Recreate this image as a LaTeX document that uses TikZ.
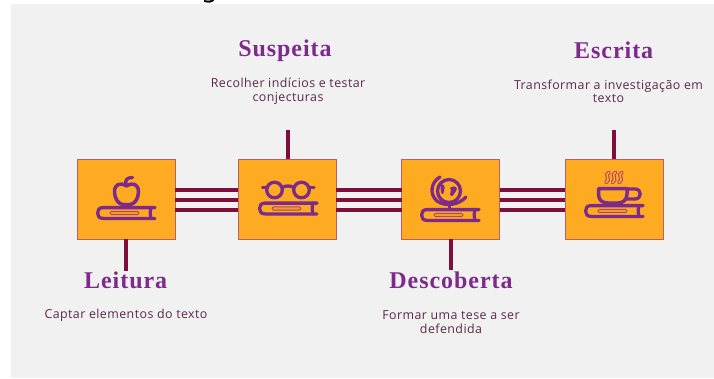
\documentclass[tikz,border=0pt]{standalone}
\usepackage{fontspec}
\setmainfont{Open Sans}[LetterSpace=3.5]
\newfontfamily\titlefont{Liberation Serif}[BoldFont={Liberation Serif Bold},BoldFeatures={LetterSpace=4}]
\newfontfamily\capfont{DejaVu Sans}
\definecolor{panelgray}{HTML}{F1F1F2}
\definecolor{amber}{HTML}{FFAB22}
\definecolor{edgerose}{HTML}{B8606A}
\definecolor{wine}{HTML}{7F0F3A}
\definecolor{violet}{HTML}{7D2A8A}
\definecolor{plum}{HTML}{5A2A45}
\definecolor{steam}{HTML}{B0456A}
\tikzset{
  x=1pt,y=-1pt,
  tile/.style={draw=edgerose,line width=0.9pt,fill=amber,minimum width=98pt,minimum height=80pt,inner sep=0pt,outer sep=0pt},
  rail/.style={draw=wine,line width=3.8pt},
  stem/.style={draw=wine,line width=4.2pt},
  heading/.style={text=violet,font=\titlefont\bfseries\fontsize{24}{26}\selectfont,inner sep=0pt},
  caption/.style={text=plum,font=\fontsize{12.4}{13.6}\selectfont,align=center,inner sep=0pt},
  ink/.style={draw=violet,line width=3.3pt,line cap=round,line join=round},
  bookicon/.pic={
    \draw[ink] (59,1.6) -- (7,1.6) .. controls (3,1.6) and (1.6,4) .. (1.6,7) .. controls (1.6,10) and (3,12.4) .. (7,12.4) -- (59,12.4);
    \draw[ink] (55,1.6) .. controls (54,5) and (54,9) .. (55,12.4);
    \draw[draw=steam,line width=0.9pt,fill=amber!85!steam,rounded corners=1.4pt] (14,5.4) rectangle (43,8.6);
  }
}
\begin{document}
\begin{tikzpicture}
\useasboundingbox (0,0) rectangle (714,378);
\fill[white] (0,0) rectangle (714,378);
\fill[panelgray] (11,4) rectangle (714,378);
\node[anchor=base,text=black,font=\capfont\fontsize{27}{30}\selectfont,inner sep=0pt] (frag) at (209.5,-2.2) {g};

\node[tile] (a) at (126.2,199.3) {};
\node[tile] (b) at (287.3,199.3) {};
\node[tile] (c) at (450.5,199.3) {};
\node[tile] (d) at (614.2,199.3) {};

\foreach \u/\v in {a/b,b/c,c/d}
  \foreach \s in {-11,-1,9}
    \draw[rail] ([yshift=\s pt]\u.east) -- ([yshift=\s pt]\v.west);

\node[heading] (t1) at (125.7,280) {Leitura};
\node[heading] (t2) at (285,51) {Suspeita};
\node[heading] (t3) at (451,280) {Descoberta};
\node[heading] (t4) at (613.7,50.5) {Escrita};

\coordinate (sa) at (126.2,270.5);
\coordinate (sb) at (287.8,130);
\coordinate (sc) at (450.8,270);
\coordinate (sd) at (614,130);
\draw[stem] (a.south -| sa) -- (sa);
\draw[stem] (b.north -| sb) -- (sb);
\draw[stem] (c.south -| sc) -- (sc);
\draw[stem] (d.north -| sd) -- (sd);

\node[caption] (c1) at (126,315) {Captar elementos do texto};
\node[caption] (c2) at (288,91.5) {Recolher indícios e testar\\conjecturas};
\node[caption] (c3) at (451,322) {Formar uma tese a ser\\defendida};
\node[caption] (c4) at (608.5,91.5) {Transformar a investigação em\\texto};

% books
\pic at (96,206) {bookicon};
\pic at (258,201.5) {bookicon};
\pic at (420,208) {bookicon};
\pic at (584,204) {bookicon};

% apple
\draw[ink,line width=3.5pt] (126.5,186) .. controls (120,182) and (114.5,184) .. (114.5,192) .. controls (114.5,199) and (119,204.5) .. (123,204.5) -- (130,204.5) .. controls (134,204.5) and (138.5,199) .. (138.5,192) .. controls (138.5,184) and (133,182) .. (126.5,186);
\draw[ink] (126,184) .. controls (125,180) and (127,177.5) .. (132.5,177.5);

% glasses
\draw[ink] (274.5,190) circle[radius=7.8pt];
\draw[ink] (301.5,190) circle[radius=7.8pt];
\draw[ink] (282,187.5) .. controls (285,185.5) and (291,185.5) .. (294,187.5);
\draw[ink] (267,187.5) -- (262.5,187.5);
\draw[ink] (309,187.5) -- (314,187.5);

% globe
\draw[ink] (449,191) circle[radius=11.5pt];
\draw[ink] (440,177) .. controls (431,182) and (429,194) .. (437,201) .. controls (445,207) and (459,205) .. (466,197);
\draw[ink] (449.5,205) -- (449.5,208);
\fill[violet] (441,184) .. controls (446,184) and (445,190) .. (443,194) .. controls (441,195) and (440,190) .. (441,184);
\fill[violet] (450,188) .. controls (454,184) and (459,188) .. (456,191) .. controls (453,193) and (455,196) .. (451,196) .. controls (448,194) and (453,191) .. (450,188);

% cup
\draw[ink,line width=3.5pt] (598.5,188.5) -- (627,188.5) -- (627,194) .. controls (627,200) and (623,203) .. (618,203) -- (608,203) .. controls (602,203) and (598.5,200) .. (598.5,194) -- cycle;
\draw[ink] (627,189) -- (635,189) .. controls (642,189) and (642,199) .. (635,199) -- (625,199);

% steam
\foreach \q in {607.5,614,620.5}{
  \draw[steam,line width=3.8pt,line cap=round] (\q+1.5,172.5) .. controls (\q-4,175) and (\q+4,179) .. (\q-1.5,182.5);
  \draw[amber,line width=1.6pt,line cap=round] (\q+1.5,172.5) .. controls (\q-4,175) and (\q+4,179) .. (\q-1.5,182.5);
}
\end{tikzpicture}
\end{document}
